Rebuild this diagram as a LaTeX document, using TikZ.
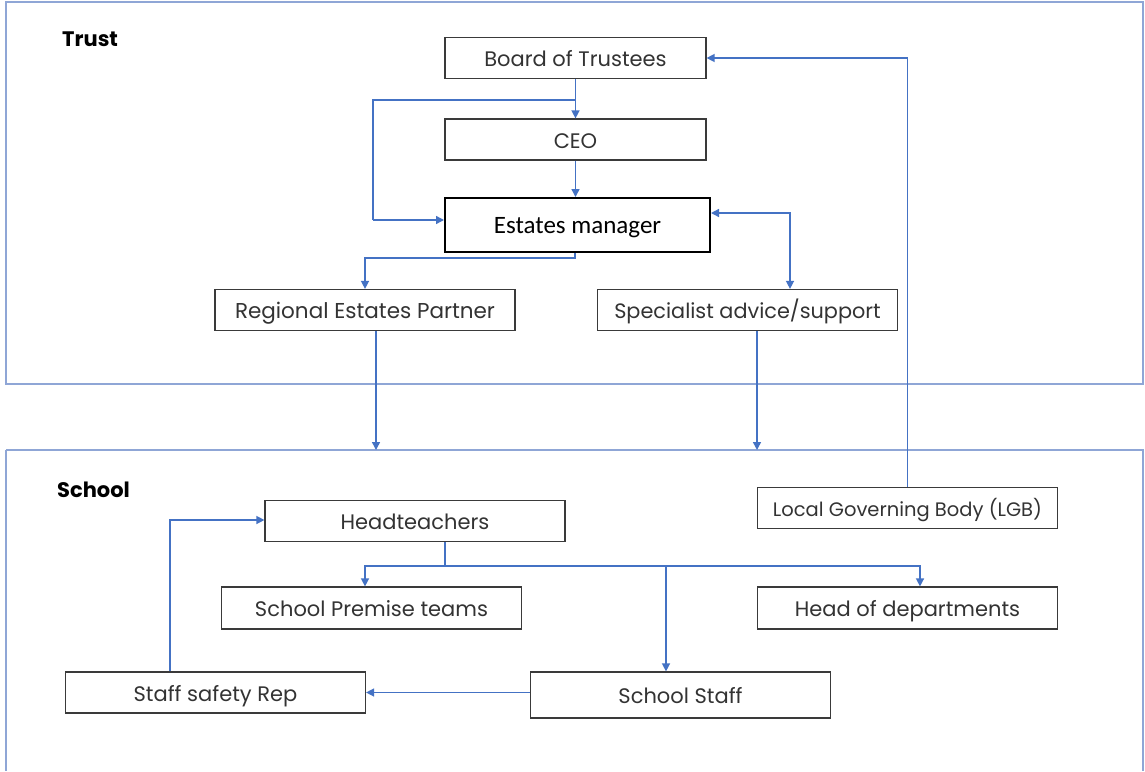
\documentclass[tikz,border=0pt]{standalone}
\usepackage{fontspec}
\setmainfont{Poppins}
\newfontfamily\calfont{Carlito}
\usetikzlibrary{arrows.meta}
\definecolor{arrowblue}{HTML}{4472C4}
\definecolor{frameblue}{HTML}{8FA6D6}
\definecolor{boxgray}{HTML}{3A3A3A}
\begin{document}
\begin{tikzpicture}[x=1pt,y=-1pt,
  box/.style={draw=boxgray, line width=1.2pt, rectangle, inner sep=0pt, minimum width=300pt, minimum height=41pt, text height=19pt, text depth=1.2pt, font=\fontsize{21}{24}\selectfont, text=black!80},
  conn/.style={draw=arrowblue, line width=1.4pt, -{Triangle[width=8pt,length=8pt]}},
  line/.style={draw=arrowblue, line width=1.4pt},
  frame/.style={draw=frameblue, line width=1.5pt},
  grp/.style={font=\fontsize{21}{24}\selectfont\bfseries, anchor=west, inner sep=0pt}]
\useasboundingbox (0,0) rectangle (1145,771);
\fill[white] (0,0) rectangle (1145,771);
% frames
\draw[frame] (6,2) rectangle (1143,384);
\draw[frame] (6,450) -- (1143,450) -- (1143,771);
\draw[frame] (6,450) -- (6,771);
\node[grp] (trust) at (62,39) {Trust};
\node[grp] (school) at (57,490) {School};
% nodes
\node[box, minimum width=261pt] (bot) at (575.5,58) {Board of Trustees};
\node[box, minimum width=261pt] (ceo) at (575.5,139.5) {CEO};
\node[box, minimum width=265pt, minimum height=54pt, draw=black, line width=2pt, font=\calfont\fontsize{25}{28}\selectfont, text=black] (em) at (577.5,225) {Estates manager};
\node[box, font=\fontsize{21.5}{24}\selectfont] (rep) at (365,310) {Regional Estates Partner};
\node[box, font=\fontsize{20.8}{24}\selectfont] (spec) at (747.5,310) {Specialist advice/support};
\node[box] (head) at (415,521) {Headteachers};
\node[box, font=\fontsize{19.5}{22}\selectfont] (lgb) at (907.5,508) {Local Governing Body (LGB)};
\node[box, minimum height=42pt] (prem) at (371.5,608) {School Premise teams};
\node[box, minimum height=42pt] (hod) at (907.5,608) {Head of departments};
\node[box] (ssr) at (215.5,692.5) {Staff safety Rep};
\node[box, minimum height=46pt] (staff) at (680.5,695) {School Staff};
% coordinates
\coordinate (b1) at (575.5,100);
\coordinate (b2) at (373,100);
\coordinate (b3) at (373,220);
\coordinate (schooltopA) at (376,450);
\coordinate (schooltopB) at (757,450);
\coordinate (h1) at (445,566);
% connectors
\draw[conn] (bot.south) -- (ceo.north);
\draw[line] (b1) -- (b2) -- (b3);
\draw[conn] (b3) -- (em.west |- b3);
\draw[conn] (ceo.south) -- (em.north -| ceo.south);
\draw[conn] (lgb.north) |- (bot.east);
\draw[line, {Triangle[width=8pt,length=8pt]}-{Triangle[width=8pt,length=8pt]}] (em.east |- 0,213) -| (spec.north -| 790,0);
\draw[conn] (em.south -| 575,0) -- (575,258) -| (rep.north);
\draw[conn] (rep.south -| schooltopA) -- (schooltopA);
\draw[conn] (spec.south -| schooltopB) -- (schooltopB);
\draw[line] (head.south -| h1) -- (h1);
\draw[conn] (h1) -| (prem.north -| 365,0);
\draw[conn] (h1) -| (hod.north -| 920,0);
\draw[conn] (666,566) -- (staff.north -| 666,0);
\draw[conn] (staff.west |- ssr.east) -- (ssr.east);
\draw[conn] (ssr.north -| 170,0) |- (head.west |- 0,520);
\end{tikzpicture}
\end{document}
